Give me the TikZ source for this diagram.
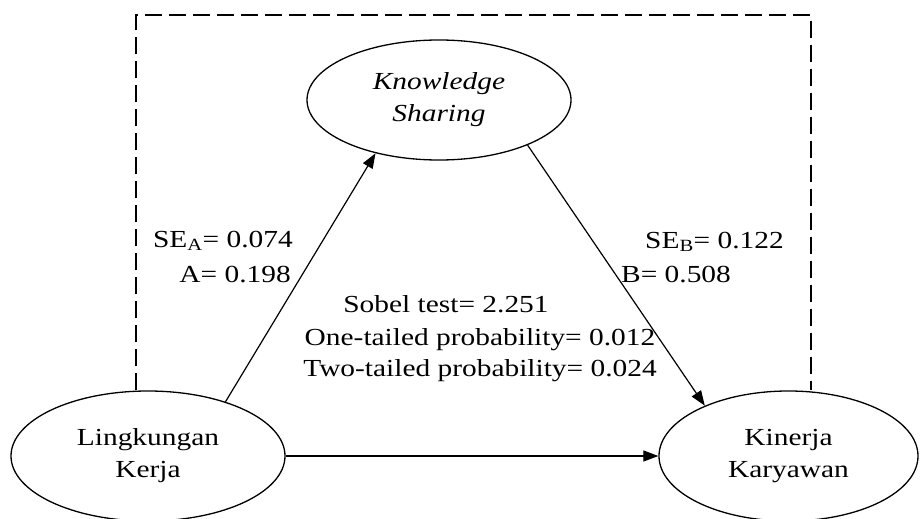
\documentclass[tikz,border=0pt]{standalone}
\usepackage{fontspec}
\setmainfont{Liberation Serif}[FakeStretch=1.2]
\usetikzlibrary{shapes.geometric,arrows.meta}
\begin{document}
\begin{tikzpicture}[x=1pt,y=-1pt,
  every node/.style={font=\fontsize{24.5}{32}\selectfont},
  oval/.style={ellipse, draw, line width=1.3pt, inner sep=0pt, align=center},
  link/.style={draw, line width=1.2pt, -{Triangle[length=15pt,width=11pt]}},
  dashframe/.style={draw, line width=1.5pt, dash pattern=on 17pt off 7pt},
  lbl/.style={inner sep=0pt}]
\useasboundingbox (0,0) rectangle (921,519);
\node[oval, minimum width=264pt, minimum height=120pt] (KS) at (439,100) {\textit{Knowledge}\\\textit{Sharing}};
\node[oval, minimum width=274pt, minimum height=130pt] (L) at (148,456) {Lingkungan\\Kerja};
\node[oval, minimum width=259pt, minimum height=130pt] (K) at (788.5,456) {Kinerja\\Karyawan};
\coordinate (tl) at (136,15);
\coordinate (tr) at (811,15);
\draw[dashframe] (L.north -| tl) -- (tl) -- (tr) -- (K.north -| tr);
\draw[link] (L.35) -- (KS.220);
\draw[link] (KS.-27) -- (K.149.5);
\draw[link] (L.east) -- (K.west);
\node[lbl, anchor=base east] (sea) at (293,247) {SE\textsubscript{A}= 0.074};
\node[lbl, anchor=base east] (a) at (291,282) {A= 0.198};
\node[lbl, anchor=base west] (seb) at (645,248) {SE\textsubscript{B}= 0.122};
\node[lbl, anchor=base west] (b) at (621,282) {B= 0.508};
\node[lbl, anchor=base] (sobel) at (446,312) {Sobel test= 2.251};
\node[lbl, anchor=base] (one) at (480,345) {One-tailed probability= 0.012};
\node[lbl, anchor=base] (two) at (480,376) {Two-tailed probability= 0.024};
\end{tikzpicture}
\end{document}
